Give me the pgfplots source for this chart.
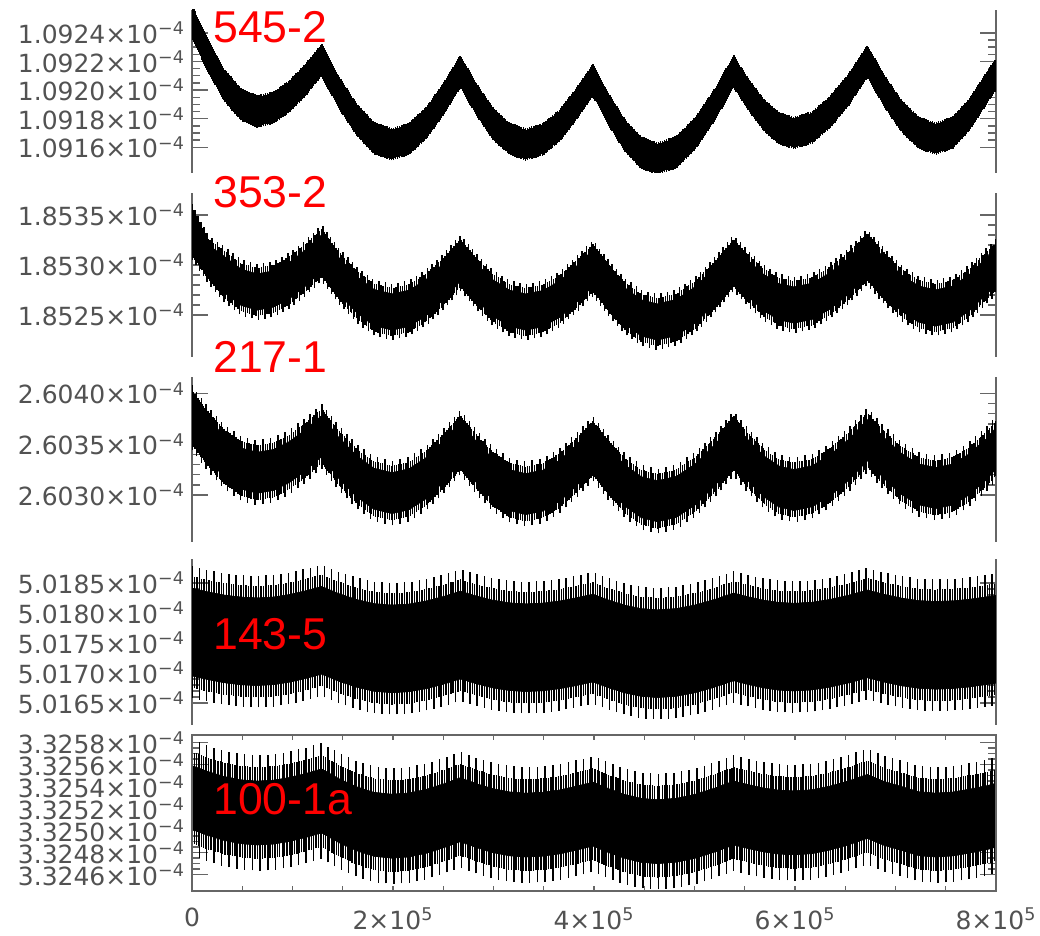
\documentclass[border=0pt]{standalone}
\usepackage{fontspec}
\setmainfont{Liberation Sans}
\newfontfamily\tickfont{DejaVu Sans}
\usepackage{pgfplots}
\pgfplotsset{compat=1.18}
\usepackage{pgfplotstable}
\usepgfplotslibrary{fillbetween}
\usetikzlibrary{decorations.markings}

\pgfplotstableread{
x hi lo
0 1.09256 1.09240
16000 1.092319 1.092159
32000 1.092115 1.091955
49000 1.091978 1.091818
65000 1.09193 1.09177
81000 1.091957 1.091797
97000 1.092035 1.091875
113000 1.092152 1.091992
129000 1.09229 1.09213
146000 1.092064 1.091904
164000 1.091873 1.091713
181000 1.091745 1.091585
199000 1.0917 1.09154
216000 1.091739 1.091579
233000 1.091849 1.091689
250000 1.092015 1.091855
267000 1.09221 1.09205
283000 1.092015 1.091855
299000 1.091849 1.091689
316000 1.091739 1.091579
332000 1.0917 1.09154
349000 1.091734 1.091574
366000 1.091832 1.091672
382000 1.091978 1.091818
399000 1.09215 1.09199
415000 1.091939 1.091779
431000 1.091761 1.091601
447000 1.091642 1.091482
463000 1.0916 1.09144
482000 1.091646 1.091486
501000 1.091779 1.091619
520000 1.091976 1.091816
539000 1.09221 1.09205
554000 1.092045 1.091885
569000 1.091906 1.091746
584000 1.091813 1.091653
599000 1.09178 1.09162
617000 1.091818 1.091658
635000 1.091927 1.091767
654000 1.092089 1.091929
672000 1.09228 1.09212
689000 1.092073 1.091913
706000 1.091898 1.091738
723000 1.091781 1.091621
740000 1.09174 1.09158
757000 1.091783 1.091623
773000 1.091904 1.091744
790000 1.092086 1.091926
800000 1.09219 1.09203
}\tabA

\pgfplotstableread{
x hi lo
0 1.85351 1.85315
16000 1.8532 1.85292
32000 1.853086 1.852726
49000 1.852956 1.852596
65000 1.85291 1.85255
81000 1.85294 1.85258
97000 1.853024 1.852664
113000 1.853151 1.852791
129000 1.8533 1.85294
146000 1.853074 1.852714
164000 1.852883 1.852523
181000 1.852755 1.852395
199000 1.85271 1.85235
216000 1.852747 1.852387
233000 1.852854 1.852494
250000 1.853012 1.852652
267000 1.8532 1.85284
283000 1.853012 1.852652
299000 1.852854 1.852494
316000 1.852747 1.852387
332000 1.85271 1.85235
349000 1.852743 1.852383
366000 1.852839 1.852479
382000 1.852981 1.852621
399000 1.85315 1.85279
415000 1.852943 1.852583
431000 1.852768 1.852408
447000 1.852651 1.852291
463000 1.85261 1.85225
482000 1.852655 1.852295
501000 1.852783 1.852423
520000 1.852974 1.852614
539000 1.8532 1.85284
554000 1.853039 1.852679
569000 1.852903 1.852543
584000 1.852812 1.852452
599000 1.85278 1.85242
617000 1.852816 1.852456
635000 1.852921 1.852561
654000 1.853076 1.852716
672000 1.85326 1.8529
689000 1.853065 1.852705
706000 1.852899 1.852539
723000 1.852789 1.852429
740000 1.85275 1.85239
757000 1.852789 1.852429
773000 1.852899 1.852539
790000 1.853065 1.852705
800000 1.85316 1.8528
}\tabB

\pgfplotstableread{
x hi lo
0 2.60396 2.60356
16000 2.603753 2.603353
32000 2.603578 2.603178
49000 2.603461 2.603061
65000 2.60342 2.60302
81000 2.603447 2.603047
97000 2.603525 2.603125
113000 2.603642 2.603242
129000 2.60378 2.60338
146000 2.603566 2.603166
164000 2.603384 2.602984
181000 2.603263 2.602863
199000 2.60322 2.60282
216000 2.603258 2.602858
233000 2.603367 2.602967
250000 2.603529 2.603129
267000 2.60372 2.60332
283000 2.603525 2.603125
299000 2.603359 2.602959
316000 2.603249 2.602849
332000 2.60321 2.60281
349000 2.603244 2.602844
366000 2.603342 2.602942
382000 2.603488 2.603088
399000 2.60366 2.60326
415000 2.603461 2.603061
431000 2.603292 2.602892
447000 2.60318 2.60278
463000 2.60314 2.60274
482000 2.603183 2.602783
501000 2.603307 2.602907
520000 2.603492 2.603092
539000 2.60371 2.60331
554000 2.603534 2.603134
569000 2.603385 2.602985
584000 2.603285 2.602885
599000 2.60325 2.60285
617000 2.603287 2.602887
635000 2.603394 2.602994
654000 2.603552 2.603152
672000 2.60374 2.60334
689000 2.60356 2.60316
706000 2.603408 2.603008
723000 2.603306 2.602906
740000 2.60327 2.60287
757000 2.603304 2.602904
773000 2.603402 2.603002
790000 2.603548 2.603148
800000 2.60366 2.60326
}\tabC

\pgfplotstableread{
x hi lo
0 5.01841 5.01695
16000 5.018349 5.016889
32000 5.018297 5.016837
49000 5.018262 5.016802
65000 5.01825 5.01679
81000 5.018264 5.016804
97000 5.018306 5.016846
113000 5.018367 5.016907
129000 5.01844 5.01698
146000 5.018321 5.016861
164000 5.018221 5.016761
181000 5.018154 5.016694
199000 5.01813 5.01667
216000 5.018147 5.016687
233000 5.018197 5.016737
250000 5.018272 5.016812
267000 5.01836 5.0169
283000 5.01828 5.01682
299000 5.018212 5.016752
316000 5.018166 5.016706
332000 5.01815 5.01669
349000 5.018162 5.016702
366000 5.018197 5.016737
382000 5.018249 5.016789
399000 5.01831 5.01685
415000 5.01821 5.01675
431000 5.018126 5.016666
447000 5.01807 5.01661
463000 5.01805 5.01659
482000 5.018071 5.016611
501000 5.018132 5.016672
520000 5.018223 5.016763
539000 5.01833 5.01687
554000 5.018265 5.016805
569000 5.01821 5.01675
584000 5.018173 5.016713
599000 5.01816 5.0167
617000 5.018177 5.016717
635000 5.018224 5.016764
654000 5.018296 5.016836
672000 5.01838 5.01692
689000 5.018307 5.016847
706000 5.018246 5.016786
723000 5.018204 5.016744
740000 5.01819 5.01673
757000 5.0182 5.01674
773000 5.018225 5.016765
790000 5.018265 5.016805
800000 5.01829 5.01683
}\tabD

\pgfplotstableread{
x hi lo
0 3.32559 3.32501
16000 3.325536 3.324956
32000 3.325491 3.324911
49000 3.325461 3.324881
65000 3.32545 3.32487
81000 3.325458 3.324878
97000 3.325482 3.324902
113000 3.325518 3.324938
129000 3.32556 3.32498
146000 3.325472 3.324892
164000 3.325397 3.324817
181000 3.325347 3.324767
199000 3.32533 3.32475
216000 3.325341 3.324761
233000 3.325374 3.324794
250000 3.325423 3.324843
267000 3.32548 3.3249
283000 3.325426 3.324846
299000 3.325381 3.324801
316000 3.325351 3.324771
332000 3.32534 3.32476
349000 3.325348 3.324768
366000 3.325369 3.324789
382000 3.325402 3.324822
399000 3.32544 3.32486
415000 3.325379 3.324799
431000 3.325327 3.324747
447000 3.325292 3.324712
463000 3.32528 3.3247
482000 3.325293 3.324713
501000 3.32533 3.32475
520000 3.325385 3.324805
539000 3.32545 3.32487
554000 3.325416 3.324836
569000 3.325386 3.324806
584000 3.325367 3.324787
599000 3.32536 3.32478
617000 3.325371 3.324791
635000 3.325404 3.324824
654000 3.325453 3.324873
672000 3.32551 3.32493
689000 3.325445 3.324865
706000 3.3254 3.32482
723000 3.325353 3.324773
740000 3.32534 3.32476
757000 3.32535 3.32477
773000 3.325375 3.324795
790000 3.325405 3.324825
800000 3.32543 3.32485
}\tabE

\newcommand\sci[2]{#1×10\textsuperscript{#2}}

\pgfplotsset{
  base/.style={scale only axis, width=402pt, xmin=0, xmax=800000,
    anchor=south west, clip=true,
    axis line style={black!60, line width=0.7pt},
    every tick/.style={black!60, line width=0.7pt},
    tick align=inside, major tick length=8pt, minor tick length=4pt,
    ticklabel style={font=\tickfont\fontsize{12.5}{14}\selectfont, text=black!68},
    scaled y ticks=false, scaled x ticks=false,
    ytick pos=both, yticklabel pos=left},
  upper/.style={base, separate axis lines, x axis line style={draw=none}, xtick=\empty},
  % vertical needles placed along a plotted edge: #1 half length, #2 spacing, #3 needle width
  needles/.style n args={3}{black, line width=0.3pt, postaction={decorate},
    decoration={markings, mark=between positions 0 and 1 step #2 with {%
      \pgftransformresetnontranslations
      \pgfsetlinewidth{#3}\pgfsetbuttcap
      \pgfpathmoveto{\pgfpoint{0pt}{-#1}}\pgfpathlineto{\pgfpoint{0pt}{#1}}%
      \pgfusepath{stroke}}}},
}

% #1 table, #2 long half-length, #3 long spacing, #4 short half-length, #5 short spacing
\newcommand\panel[5]{%
  \addplot[draw=none, name path=hi] table[x=x,y=hi]{#1};
  \addplot[draw=none, name path=lo] table[x=x,y=lo]{#1};
  \addplot[black] fill between[of=hi and lo];
  \addplot[needles={#2}{#3}{0.75pt}] table[x=x,y=hi]{#1};
  \addplot[needles={#2}{#3}{0.75pt}] table[x=x,y=lo]{#1};
  \addplot[needles={#4}{#5}{0.7pt}] table[x=x,y=hi]{#1};
  \addplot[needles={#4}{#5}{0.7pt}] table[x=x,y=lo]{#1};
}

\begin{document}
\begin{tikzpicture}

\begin{axis}[upper, at={(96pt,381.5pt)}, height=81.5pt,
  ymin=1.09142, ymax=1.09256,
  ytick={1.0916,1.0918,1.0920,1.0922,1.0924},
  yticklabels={\sci{1.0916}{−4},\sci{1.0918}{−4},\sci{1.0920}{−4},\sci{1.0922}{−4},\sci{1.0924}{−4}},
  minor y tick num=3]
\panel{\tabA}{2.4pt}{1.1pt}{1.6pt}{0.5pt}
\end{axis}

\begin{axis}[upper, at={(96pt,289.5pt)}, height=82pt,
  ymin=1.85208, ymax=1.85372,
  ytick={1.8525,1.8530,1.8535},
  yticklabels={\sci{1.8525}{−4},\sci{1.8530}{−4},\sci{1.8535}{−4}},
  minor y tick num=4]
\panel{\tabB}{5pt}{3.3pt}{3pt}{1.1pt}
\end{axis}

\begin{axis}[upper, at={(96pt,197pt)}, height=82.5pt,
  ymin=2.60254, ymax=2.60416,
  ytick={2.6030,2.6035,2.6040},
  yticklabels={\sci{2.6030}{−4},\sci{2.6035}{−4},\sci{2.6040}{−4}},
  minor y tick num=4]
\panel{\tabC}{6pt}{3.9pt}{3.5pt}{1.2pt}
\end{axis}

\begin{axis}[upper, at={(96pt,105.5pt)}, height=83pt,
  ymin=5.01613, ymax=5.0189,
  ytick={5.0165,5.0170,5.0175,5.0180,5.0185},
  yticklabels={\sci{5.0165}{−4},\sci{5.0170}{−4},\sci{5.0175}{−4},\sci{5.0180}{−4},\sci{5.0185}{−4}},
  minor y tick num=4]
\panel{\tabD}{11pt}{3.75pt}{6pt}{1.25pt}
\end{axis}

\begin{axis}[base, at={(96pt,22.5pt)}, height=78pt,
  ymin=3.32445, ymax=3.32587, xtick=\empty,
  ytick={3.3246,3.3248,3.3250,3.3252,3.3254,3.3256,3.3258},
  yticklabels={\sci{3.3246}{−4},\sci{3.3248}{−4},\sci{3.3250}{−4},\sci{3.3252}{−4},\sci{3.3254}{−4},\sci{3.3256}{−4},\sci{3.3258}{−4}},
  minor y tick num=3]
\panel{\tabE}{13pt}{3.9pt}{7pt}{1.25pt}
\end{axis}

\begin{axis}[base, at={(96pt,22.5pt)}, height=78pt,
  ymin=0, ymax=1, ytick=\empty,
  major tick length=2.5pt, minor tick length=2.5pt,
  xtick={0,200000,400000,600000,800000},
  xticklabels={0,\sci{2}{5},\sci{4}{5},\sci{6}{5},\sci{8}{5}},
  minor x tick num=3, xtick pos=both, xticklabel pos=bottom,
  xticklabel style={yshift=-5pt}]
\end{axis}

\begin{scope}[every node/.style={inner sep=0pt, anchor=base west, text=red, font=\fontsize{22.3}{26}\selectfont}]
\node at (106.5pt,446.5pt) {545-2};
\node at (106.5pt,364pt) {353-2};
\node at (106.5pt,281.5pt) {217-1};
\node at (106.5pt,143pt) {143-5};
\node at (106.5pt,60.5pt) {100-1a};
\end{scope}
\pgfresetboundingbox
\useasboundingbox (0,0) rectangle (520pt,468pt);
\end{tikzpicture}
\end{document}
